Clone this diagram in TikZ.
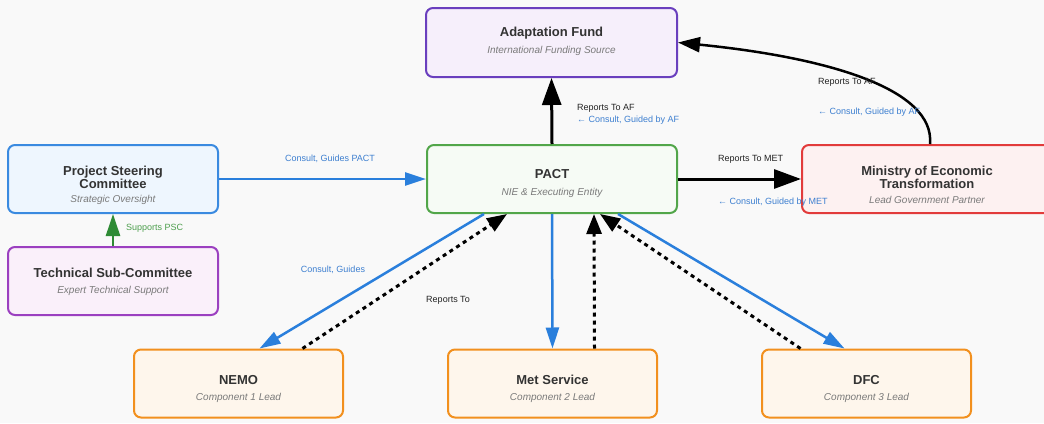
\documentclass[tikz,border=0pt]{standalone}
\usepackage{fontspec}
\setmainfont{Liberation Sans}
\usetikzlibrary{arrows.meta,calc}
\definecolor{bgc}{HTML}{F9F9F9}
\definecolor{titlec}{HTML}{333333}
\definecolor{subc}{HTML}{7A7A7A}
\definecolor{lblc}{HTML}{222222}
\definecolor{lblblue}{HTML}{3D7FD0}
\definecolor{lblgreen}{HTML}{4E9F4E}
\definecolor{arrblue}{HTML}{2A7FDC}
\definecolor{arrgreen}{HTML}{2E8B35}
\definecolor{afb}{HTML}{6A3FBE}\definecolor{aff}{HTML}{F6EFFB}
\definecolor{pactb}{HTML}{52A64A}\definecolor{pactf}{HTML}{F6FBF5}
\definecolor{pscb}{HTML}{3A8AE0}\definecolor{pscf}{HTML}{EEF6FE}
\definecolor{tscb}{HTML}{9B40C0}\definecolor{tscf}{HTML}{FAF0FA}
\definecolor{metb}{HTML}{E23B3B}\definecolor{metf}{HTML}{FDF1F1}
\definecolor{orgb}{HTML}{F2901E}\definecolor{orgf}{HTML}{FEF6EC}
\tikzset{
  box/.style={rectangle,rounded corners=7pt,line width=2pt,inner sep=0pt},
  bigbox/.style={box,minimum width=250pt,minimum height=68pt},
  sidebox/.style={box,minimum width=210pt,minimum height=68pt},
  compbox/.style={box,minimum width=209pt,minimum height=68pt,draw=orgb,fill=orgf},
  ttl/.style={inner sep=0pt,align=center,text=titlec,font=\fontsize{13}{13}\selectfont\bfseries},
  sub/.style={inner sep=0pt,text=subc,font=\fontsize{10}{11}\selectfont\itshape},
  lbl/.style={inner sep=0pt,text=lblc,font=\fontsize{9}{10}\selectfont},
  lblb/.style={lbl,text=lblblue},
  lblg/.style={lbl,text=lblgreen},
  blackarr/.style={draw=black,line width=3pt,-{Triangle[length=27pt,width=19pt]}},
  curvearr/.style={draw=black,line width=2.5pt,-{Triangle[length=22pt,width=15pt]}},
  bluearr/.style={draw=arrblue,line width=2.5pt,-{Triangle[length=21pt,width=13pt]}},
  greenarr/.style={draw=arrgreen,line width=2.5pt,-{Triangle[length=22pt,width=14pt]}},
  dasharr/.style={draw=black,line width=3pt,dash pattern=on 4pt off 4pt,-{Triangle[length=20pt,width=15pt]}},
}
\begin{document}
\begin{tikzpicture}[x=1pt,y=-1pt]
\useasboundingbox (0,0) rectangle (1044,423);
\clip (0,0) rectangle (1044,423);
\fill[bgc] (0,0) rectangle (1044,423);

% boxes
\node[bigbox,draw=afb,fill=aff,minimum width=251pt,minimum height=69pt] (af) at (551.5,42.5) {};
\node[bigbox,draw=pactb,fill=pactf] (pact) at (552,179) {};
\node[sidebox,draw=pscb,fill=pscf] (psc) at (113,179) {};
\node[sidebox,draw=tscb,fill=tscf] (tsc) at (113,281) {};
\node[bigbox,draw=metb,fill=metf] (met) at (927,179) {};
\node[compbox] (nemo) at (238.5,383.5) {};
\node[compbox] (mets) at (552.5,383.5) {};
\node[compbox] (dfc) at (866.5,383.5) {};

% texts
\node[ttl] (af-t) at (551.5,33) {Adaptation Fund};
\node[sub] (af-s) at (551.5,51) {International Funding Source};
\node[ttl] (pact-t) at (552,174) {PACT};
\node[sub] (pact-s) at (552,193) {NIE \& Executing Entity};
\node[ttl] (psc-t) at (113,177) {Project Steering\\Committee};
\node[sub] (psc-s) at (113,200) {Strategic Oversight};
\node[ttl] (tsc-t) at (113,273) {Technical Sub-Committee};
\node[sub] (tsc-s) at (113,291) {Expert Technical Support};
\node[ttl] (met-t) at (927,177) {Ministry of Economic\\Transformation};
\node[sub] (met-s) at (927,200) {Lead Government Partner};
\node[ttl] (nemo-t) at (238.5,380) {NEMO};
\node[sub] (nemo-s) at (238.5,398) {Component 1 Lead};
\node[ttl] (mets-t) at (552.5,380) {Met Service};
\node[sub] (mets-s) at (552.5,398) {Component 2 Lead};
\node[ttl] (dfc-t) at (866.5,380) {DFC};
\node[sub] (dfc-s) at (866.5,398) {Component 3 Lead};

% connectors
\draw[blackarr] (pact.north) -- (af.south);
\draw[blackarr] (pact.east) -- (met.west);
\draw[curvearr] ($(met.north)+(3,0)$) .. controls ($(met.north)+(8,-55)$) and ($(af.east)+(150,15)$) .. (af.east);
\draw[bluearr] (psc.east) -- (pact.west);
\draw[greenarr] (tsc.north) -- (psc.south);
\draw[bluearr] ($(pact.south)+(-68,0)$) -- ($(nemo.north)+(21,0)$);
\draw[dasharr] ($(nemo.north)+(64,0)$) -- ($(pact.south)+(-45,0)$);
\draw[bluearr] (pact.south) -- (mets.north);
\draw[dasharr] ($(mets.north)+(42,0)$) -- ($(pact.south)+(42,0)$);
\draw[dasharr] ($(dfc.north)+(-66,0)$) -- ($(pact.south)+(48,0)$);
\draw[bluearr] ($(pact.south)+(66,0)$) -- ($(dfc.north)+(-22,0)$);

% labels
\node[lbl,anchor=west] (l-af1) at (577,108) {Reports To AF};
\node[lblb,anchor=west] (l-af2) at (577,120) {← Consult, Guided by AF};
\node[lbl,anchor=west] (l-met1) at (718,159) {Reports To MET};
\node[lblb,anchor=west] (l-met2) at (718,202) {← Consult, Guided by MET};
\node[lbl,anchor=west] (l-c1) at (818,82) {Reports To AF};
\node[lblb,anchor=west] (l-c2) at (818,112) {← Consult, Guided by AF};
\node[lblb] (l-psc) at (330,159) {Consult, Guides PACT};
\node[lblg,anchor=west] (l-tsc) at (126,228) {Supports PSC};
\node[lblb] (l-nemo1) at (333,270) {Consult, Guides};
\node[lbl] (l-nemo2) at (448,300) {Reports To};
\end{tikzpicture}
\end{document}
